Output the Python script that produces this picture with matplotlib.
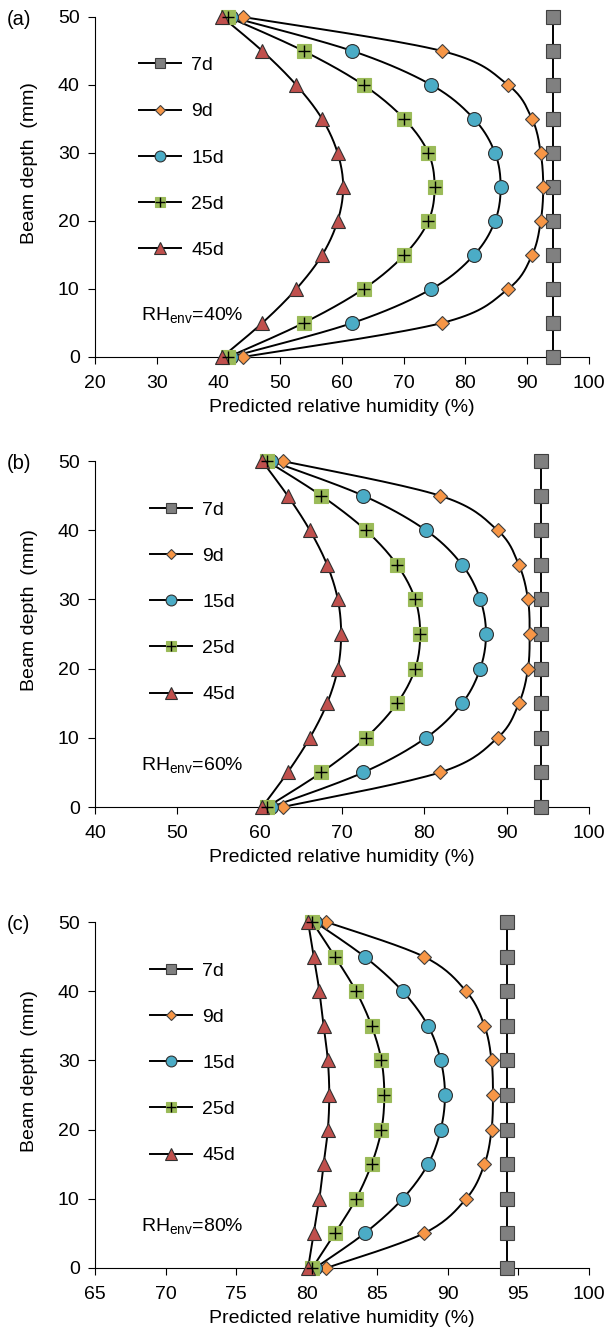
import numpy as np
import matplotlib.pyplot as plt
from matplotlib.lines import Line2D
from matplotlib.legend_handler import HandlerTuple

plt.rcParams['font.family'] = ['Liberation Sans', 'DejaVu Sans']
plt.rcParams['mathtext.fontset'] = 'custom'
plt.rcParams['mathtext.rm'] = 'Liberation Sans'

# Beam depth (mm)
depth = [0, 5, 10, 15, 20, 25, 30, 35, 40, 45, 50]
ages = ['7d', '9d', '15d', '25d', '45d']

# (a) RH_env = 40%
rh40_7d = [94.2] * 11
rh40_9d = [44.0, 76.2, 86.9, 90.8, 92.2, 92.6, 92.2, 90.8, 86.9, 76.2, 44.0]
rh40_15d = [42.0, 61.7, 74.5, 81.4, 84.8, 85.7, 84.8, 81.4, 74.5, 61.7, 42.0]
rh40_25d = [41.6, 53.8, 63.5, 70.1, 74.0, 75.0, 74.0, 70.1, 63.5, 53.8, 41.6]
rh40_45d = [40.6, 47.1, 52.6, 56.8, 59.3, 60.2, 59.3, 56.8, 52.6, 47.1, 40.6]

# (b) RH_env = 60%
rh60_7d = [94.2] * 11
rh60_9d = [62.8, 81.9, 88.9, 91.5, 92.6, 92.8, 92.6, 91.5, 88.9, 81.9, 62.8]
rh60_15d = [61.4, 72.6, 80.2, 84.6, 86.8, 87.5, 86.8, 84.6, 80.2, 72.6, 61.4]
rh60_25d = [60.9, 67.5, 72.9, 76.7, 78.9, 79.5, 78.9, 76.7, 72.9, 67.5, 60.9]
rh60_45d = [60.3, 63.4, 66.1, 68.2, 69.5, 69.9, 69.5, 68.2, 66.1, 63.4, 60.3]

# (c) RH_env = 80%
rh80_7d = [94.2] * 11
rh80_9d = [81.4, 88.3, 91.3, 92.6, 93.1, 93.2, 93.1, 92.6, 91.3, 88.3, 81.4]
rh80_15d = [80.6, 84.1, 86.8, 88.6, 89.5, 89.8, 89.5, 88.6, 86.8, 84.1, 80.6]
rh80_25d = [80.4, 82.0, 83.5, 84.6, 85.3, 85.5, 85.3, 84.6, 83.5, 82.0, 80.4]
rh80_45d = [80.1, 80.5, 80.9, 81.2, 81.5, 81.6, 81.5, 81.2, 80.9, 80.5, 80.1]

panels = [
    ('(a)', '40%', [rh40_7d, rh40_9d, rh40_15d, rh40_25d, rh40_45d], (20, 100), 10),
    ('(b)', '60%', [rh60_7d, rh60_9d, rh60_15d, rh60_25d, rh60_45d], (40, 100), 10),
    ('(c)', '80%', [rh80_7d, rh80_9d, rh80_15d, rh80_25d, rh80_45d], (65, 100), 5),
]

styles = {
    '7d': dict(marker='s', mfc='#808080', mec='#404040', ms=9.5),
    '9d': dict(marker='D', mfc='#F79646', mec='#404040', ms=7),
    '15d': dict(marker='o', mfc='#4BACC6', mec='#303030', ms=10),
    '25d': dict(marker='s', mfc='#9BBB59', mec='#9BBB59', ms=9.5),
    '45d': dict(marker='^', mfc='#C0504D', mec='#303030', ms=10.5),
}


def smooth(x, y, n=20):
    # Catmull-Rom curve through the points, like a smoothed spreadsheet line
    x = np.asarray(x, float)
    y = np.asarray(y, float)
    px = np.concatenate([[x[0]], x, [x[-1]]])
    py = np.concatenate([[y[0]], y, [y[-1]]])
    t = np.linspace(0, 1, n)[:, None]
    xs, ys = [], []
    for i in range(1, len(px) - 2):
        for p, out in ((px, xs), (py, ys)):
            p0, p1, p2, p3 = p[i - 1], p[i], p[i + 1], p[i + 2]
            c = 0.5 * ((2 * p1) + (-p0 + p2) * t + (2 * p0 - 5 * p1 + 4 * p2 - p3) * t ** 2
                       + (-p0 + 3 * p1 - 3 * p2 + p3) * t ** 3)
            out.append(c.ravel())
    return np.concatenate(xs), np.concatenate(ys)


fig = plt.figure(figsize=(6.09, 13.28), dpi=100)
boxes = [(0.156, 0.7312, 0.811, 0.256),
         (0.156, 0.3923, 0.811, 0.2605),
         (0.156, 0.0452, 0.811, 0.2605)]
leg_x = [0.053, 0.075, 0.075]
FS = 14

for (tag, rh, series, xlim, step), box, lx in zip(panels, boxes, leg_x):
    ax = fig.add_axes(box)
    handles = []
    for age, vals in zip(ages, series):
        st = styles[age]
        sx, sy = smooth(vals, depth)
        ax.plot(sx, sy, color='black', lw=1.4, zorder=2, clip_on=False)
        ax.plot(vals, depth, ls='none', marker=st['marker'], mfc=st['mfc'], mec=st['mec'],
                mew=0.8, ms=st['ms'], zorder=3, clip_on=False)
        h = Line2D([], [], color='black', lw=1.4, marker=st['marker'], mfc=st['mfc'],
                   mec=st['mec'], mew=0.8, ms=st['ms'] * 0.78)
        if age == '25d':
            ax.plot(vals, depth, ls='none', marker='+', color='black', ms=9, mew=1.0,
                    zorder=4, clip_on=False)
            hp = Line2D([], [], ls='none', marker='+', color='black', ms=7, mew=1.0)
            h = (h, hp)
        handles.append(h)

    ax.legend(handles, ages, loc='upper left', bbox_to_anchor=(lx, 0.935), frameon=False,
              handlelength=2.2, handletextpad=0.5, labelspacing=1.47, fontsize=FS,
              handler_map={tuple: HandlerTuple(ndivide=1)})

    ax.text(0.093, 0.12, r'RH$_{\mathregular{env}}$=' + rh, fontsize=FS,
            ha='left', va='center', transform=ax.transAxes)

    ax.set_xlim(*xlim)
    ax.set_ylim(0, 50)
    ax.set_xticks(np.arange(xlim[0], xlim[1] + 0.1, step))
    ax.set_yticks(np.arange(0, 51, 10))
    ax.tick_params(direction='out', length=5, width=0.8, labelsize=FS)
    ax.tick_params(axis='x', pad=8)
    ax.tick_params(axis='y', pad=6)
    for s in ('top', 'right'):
        ax.spines[s].set_visible(False)
    for s in ('left', 'bottom'):
        ax.spines[s].set_linewidth(0.8)
    ax.set_xlabel('Predicted relative humidity (%)', fontsize=FS, labelpad=5)
    ax.set_ylabel('Beam depth  (mm)', fontsize=FS)
    ax.yaxis.set_label_coords(-0.115, 0.57)
    fig.text(0.011, box[1] + box[3] - 0.002, tag, fontsize=FS + 0.5, ha='left', va='center')

fig.savefig('out.png', dpi=100)
